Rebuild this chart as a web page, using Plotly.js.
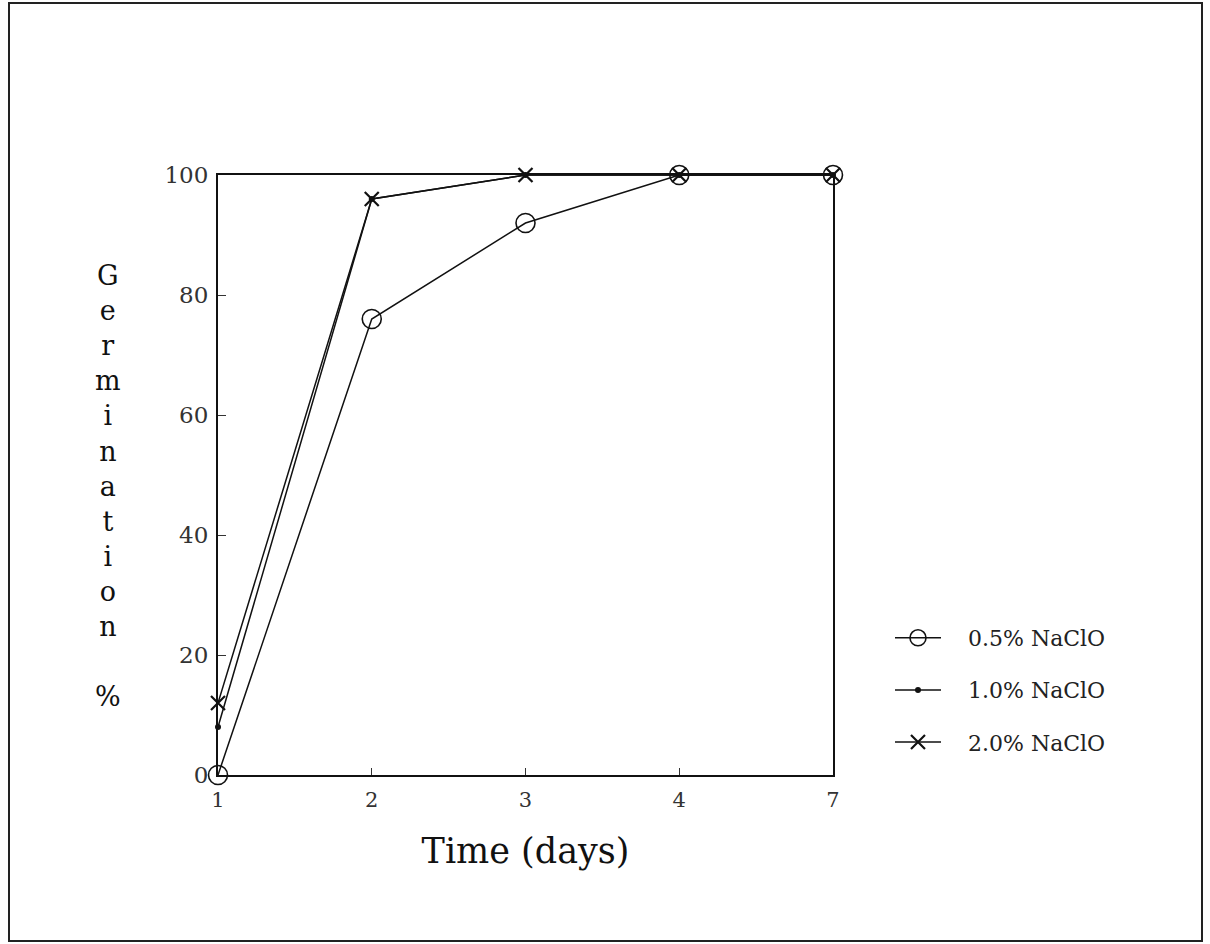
<!DOCTYPE html>
<html>
<head>
<meta charset="utf-8">
<script src="https://cdn.plot.ly/plotly-3.0.1.min.js"></script>
<style>
html,body{margin:0;padding:0;background:#fff;}
#chart{width:1210px;height:944px;}
</style>
</head>
<body>
<div id="chart"></div>
<script>
// ---- data ----
const days = ['1', '2', '3', '4', '7'];
const naclo05 = [0, 76, 92, 100, 100];
const naclo10 = [8, 96, 100, 100, 100];
const naclo20 = [12, 96, 100, 100, 100];
const seriesNames = ['0.5% NaClO', '1.0% NaClO', '2.0% NaClO'];
const yTicks = [0, 20, 40, 60, 80, 100];
const yLabelLetters = ['G','e','r','m','i','n','a','t','i','o','n','','%'];

const serif = 'DejaVu Serif, Liberation Serif, serif';
const gap = '\u2003';   // spacing between legend symbol and text

const traces = [
  {
    x: days, y: naclo05, name: gap + seriesNames[0], type: 'scatter', mode: 'lines+markers',
    legendgroup: 'a',
    line: {color: '#111', width: 1.5},
    marker: {symbol: 'circle-open', size: 19, color: '#111', line: {width: 1.6, color: '#111'}},
    cliponaxis: false
  },
  {
    x: days, y: naclo10, name: gap + seriesNames[1], type: 'scatter', mode: 'lines+markers',
    legendgroup: 'b',
    line: {color: '#111', width: 1.5},
    marker: {symbol: 'circle', size: 6, color: '#111'},
    cliponaxis: false
  },
  {
    x: days, y: naclo20, name: gap + seriesNames[2], type: 'scatter', mode: 'lines+markers',
    legendgroup: 'c',
    line: {color: '#111', width: 1.5},
    marker: {symbol: 'x-thin-open', size: 14, color: '#111', line: {width: 2.2, color: '#111'}},
    cliponaxis: false
  }
];

const L = 218, R = 833, T = 175, B = 775, W = 1210, H = 944;
const pw = R - L, ph = B - T;
function px(x) { return (x - L) / pw; }
function py(y) { return (B - y) / ph; }

const layout = {
  width: W, height: H,
  margin: {l: L, r: W - R, t: T, b: H - B, pad: 0},
  paper_bgcolor: '#fff', plot_bgcolor: '#fff',
  showlegend: true,
  legend: {
    x: px(890), y: py(617), xanchor: 'left', yanchor: 'top',
    font: {family: serif, size: 22, color: '#222'},
    itemwidth: 46,
    tracegroupgap: 20.5,
    traceorder: 'grouped',
    bgcolor: 'rgba(0,0,0,0)'
  },
  xaxis: {
    type: 'category',
    range: [0, 4],
    showgrid: false, zeroline: false,
    showline: true, linecolor: '#111', linewidth: 2, mirror: true,
    ticks: 'inside', ticklen: 7, tickcolor: '#333', tickwidth: 1,
    tickfont: {family: serif, size: 21, color: '#333'},
    ticklabelstandoff: 5,
    title: {text: 'Time (days)', font: {family: serif, size: 35, color: '#111'}, standoff: 27},
    fixedrange: true
  },
  yaxis: {
    range: [0, 100],
    tickvals: yTicks,
    showgrid: false, zeroline: false,
    showline: true, linecolor: '#111', linewidth: 2, mirror: true,
    ticks: 'inside', ticklen: 8, tickcolor: '#333', tickwidth: 1,
    tickfont: {family: serif, size: 23, color: '#333'},
    ticklabelstandoff: 3,
    fixedrange: true
  },
  annotations: [
    {
      xref: 'paper', yref: 'paper',
      x: px(108), y: py(486), xanchor: 'center', yanchor: 'middle',
      text: yLabelLetters.join('<br>'),
      showarrow: false,
      font: {family: serif, size: 27, color: '#111'}
    }
  ],
  shapes: [
    {
      type: 'rect', xref: 'paper', yref: 'paper',
      x0: px(9), x1: px(1202), y0: py(941), y1: py(3),
      line: {color: '#222', width: 2}, fillcolor: 'rgba(0,0,0,0)', layer: 'below'
    }
  ]
};

Plotly.newPlot('chart', traces, layout, {displayModeBar: false, staticPlot: true});
</script>
</body>
</html>
